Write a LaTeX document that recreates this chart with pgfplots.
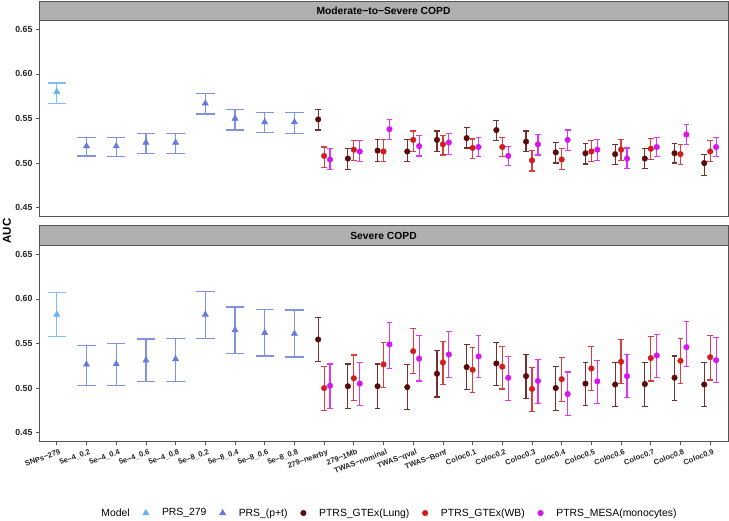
\documentclass[border=0pt]{standalone}
\usepackage{pgfplots}
\pgfplotsset{compat=1.18}
\usepackage{pgfplotstable}
\usepackage{fontspec}
\setmainfont{Liberation Sans}

\definecolor{prsA}{RGB}{100,176,250}
\definecolor{prsB}{RGB}{100,122,225}
\definecolor{lung}{RGB}{92,10,10}
\definecolor{wb}{RGB}{212,28,28}
\definecolor{mesa}{RGB}{215,20,240}
\definecolor{axgray}{RGB}{85,85,85}
\definecolor{stripgray}{RGB}{176,176,176}

% ---------- Moderate-to-Severe COPD ----------
\pgfplotstableread{
x y lo hi
1 0.580 0.567 0.590
}\topA
\pgfplotstableread{
x y lo hi
2 0.519 0.508 0.529
3 0.519 0.507 0.529
4 0.523 0.511 0.533
5 0.523 0.511 0.533
6 0.567 0.555 0.578
7 0.550 0.537 0.560
8 0.546 0.534 0.557
9 0.546 0.533 0.557
}\topB
\pgfplotstableread{
x y lo hi
10 0.549 0.537 0.560
11 0.505 0.493 0.516
12 0.514 0.502 0.526
13 0.513 0.502 0.526
14 0.526 0.513 0.536
15 0.528 0.517 0.540
16 0.537 0.525 0.548
17 0.524 0.513 0.536
18 0.512 0.500 0.523
19 0.511 0.499 0.522
20 0.510 0.498 0.521
21 0.505 0.494 0.516
22 0.511 0.500 0.522
23 0.500 0.486 0.510
}\topLung
\pgfplotstableread{
x y lo hi
10 0.508 0.495 0.518
11 0.515 0.503 0.525
12 0.513 0.502 0.526
13 0.526 0.513 0.536
14 0.521 0.509 0.531
15 0.517 0.505 0.527
16 0.518 0.507 0.529
17 0.503 0.491 0.514
18 0.504 0.493 0.516
19 0.513 0.502 0.525
20 0.515 0.503 0.526
21 0.516 0.504 0.528
22 0.510 0.498 0.521
23 0.513 0.502 0.525
}\topWB
\pgfplotstableread{
x y lo hi
10 0.504 0.493 0.516
11 0.513 0.502 0.525
12 0.538 0.526 0.549
13 0.519 0.508 0.531
14 0.523 0.510 0.533
15 0.518 0.507 0.529
16 0.508 0.497 0.519
17 0.521 0.509 0.532
18 0.526 0.514 0.537
19 0.515 0.503 0.526
20 0.505 0.494 0.517
21 0.518 0.507 0.529
22 0.532 0.521 0.543
23 0.518 0.507 0.529
}\topMESA

% ---------- Severe COPD ----------
\pgfplotstableread{
x y lo hi
1 0.5825 0.558 0.6075
}\botA
\pgfplotstableread{
x y lo hi
2 0.5265 0.503 0.548
3 0.527 0.503 0.550
4 0.531 0.507 0.555
5 0.5325 0.507 0.556
6 0.5825 0.556 0.6086
7 0.565 0.539 0.591
8 0.562 0.536 0.588
9 0.561 0.535 0.5877
}\botB
\pgfplotstableread{
x y lo hi
10 0.5545 0.530 0.579
11 0.502 0.477 0.527
12 0.502 0.477 0.527
13 0.501 0.476 0.526
14 0.516 0.490 0.542
15 0.5235 0.498 0.5485
16 0.5276 0.5026 0.551
17 0.5134 0.488 0.538
18 0.500 0.475 0.524
19 0.505 0.480 0.529
20 0.504 0.479 0.529
21 0.5045 0.479 0.529
22 0.5116 0.486 0.536
23 0.504 0.479 0.529
}\botLung
\pgfplotstableread{
x y lo hi
10 0.500 0.475 0.524
11 0.511 0.486 0.537
12 0.5265 0.501 0.551
13 0.5414 0.516 0.5664
14 0.5287 0.504 0.552
15 0.5205 0.495 0.5455
16 0.524 0.499 0.547
17 0.499 0.474 0.5235
18 0.510 0.485 0.534
19 0.522 0.497 0.5466
20 0.5295 0.505 0.5545
21 0.5336 0.508 0.5575
22 0.5306 0.505 0.5556
23 0.5347 0.509 0.5593
}\botWB
\pgfplotstableread{
x y lo hi
10 0.5026 0.477 0.527
11 0.505 0.480 0.529
12 0.549 0.522 0.5735
13 0.533 0.508 0.559
14 0.5377 0.5116 0.5634
15 0.5355 0.5116 0.5593
16 0.5116 0.486 0.535
17 0.508 0.483 0.532
18 0.4933 0.469 0.518
19 0.5075 0.4825 0.531
20 0.5134 0.489 0.538
21 0.5366 0.5116 0.5604
22 0.5459 0.5246 0.5743
23 0.5313 0.5063 0.5563
}\botMESA

\pgfplotsset{
  panel/.style={
    scale only axis, width=689pt, height=196pt,
    xmin=0.4, xmax=23.6, ymin=0.44, ymax=0.66,
    ytick={0.45,0.50,0.55,0.60,0.65},
    yticklabel style={font=\bfseries\fontsize{8.8}{10}\selectfont, text=black!85,
      /pgf/number format/.cd, fixed, fixed zerofill, precision=2, assume math mode=true},
    axis line style={draw=axgray, line width=0.8pt},
    tick style={draw=axgray, line width=0.8pt},
    tick align=outside, major tick length=3pt,
    xtick pos=bottom, ytick pos=left,
  },
  prs/.style={only marks, mark=triangle*, mark size=3.6pt, color=#1,
    mark options={fill=#1, draw=#1},
    error bars/y dir=both, error bars/y explicit,
    error bars/error bar style={line width=1.3pt, color=#1!82!white},
    error bars/error mark options={rotate=90, mark size=9.2pt, line width=1.3pt, color=#1!82!white}},
  ptrs/.style={only marks, mark=*, mark size=2.8pt, color=#1,
    mark options={fill=#1, draw=#1},
    error bars/y dir=both, error bars/y explicit,
    error bars/error bar style={line width=1.2pt, color=#1!85!white},
    error bars/error mark options={rotate=90, mark size=2.9pt, line width=1.2pt, color=#1!85!white}},
  /pgfplots/table/eb/.style={x expr=\thisrow{x}+#1, y=y,
    y error plus expr=\thisrow{hi}-\thisrow{y},
    y error minus expr=\thisrow{y}-\thisrow{lo}},
}

\begin{document}
\begin{tikzpicture}
\path[use as bounding box] (0pt,0pt) rectangle (729pt,-520pt);

% top panel
\begin{axis}[panel, at={(39pt,-20.5pt)}, anchor=north west, xtick=\empty]
\addplot[prs=prsA] table[eb=0] {\topA};
\addplot[prs=prsB] table[eb=0] {\topB};
\addplot[ptrs=lung] table[eb=-0.2] {\topLung};
\addplot[ptrs=wb] table[eb=0] {\topWB};
\addplot[ptrs=mesa] table[eb=0.2] {\topMESA};
\end{axis}

% bottom panel
\begin{axis}[panel, at={(39pt,-245.5pt)}, anchor=north west,
  xtick={1,...,23},
  xticklabels={SNPs−279,5e−4\_0.2,5e−4\_0.4,5e−4\_0.6,5e−4\_0.8,5e−8\_0.2,5e−8\_0.4,5e−8\_0.6,5e−8\_0.8,279−nearby,279−1Mb,TWAS−nominal,TWAS−qval,TWAS−Bonf,Coloc0.1,Coloc0.2,Coloc0.3,Coloc0.4,Coloc0.5,Coloc0.6,Coloc0.7,Coloc0.8,Coloc0.9},
  xticklabel style={xshift=3pt, yshift=-3pt, rotate=20, anchor=north east, inner sep=1pt, font=\bfseries\fontsize{7.6}{8}\selectfont, text=black!85},
  legend style={at={(0.5,-0.365)}, anchor=center, draw=none, fill=none,
    legend columns=-1, font=\fontsize{10.4}{12}\selectfont,
    /tikz/every even column/.append style={column sep=11pt},
    /tikz/every odd column/.append style={column sep=11pt}},
  legend cell align=left,
]
\addplot[forget plot, prs=prsA] table[eb=0] {\botA};
\addplot[forget plot, prs=prsB] table[eb=0] {\botB};
\addplot[forget plot, ptrs=lung] table[eb=-0.2] {\botLung};
\addplot[forget plot, ptrs=wb] table[eb=0] {\botWB};
\addplot[forget plot, ptrs=mesa] table[eb=0.2] {\botMESA};
\addlegendimage{empty legend}\addlegendentry{Model}
\addlegendimage{only marks, mark=triangle*, mark size=3.6pt, color=prsA}\addlegendentry{PRS\_279}
\addlegendimage{only marks, mark=triangle*, mark size=3.6pt, color=prsB}\addlegendentry{PRS\_(p+t)}
\addlegendimage{only marks, mark=*, mark size=2.8pt, color=lung}\addlegendentry{PTRS\_GTEx(Lung)}
\addlegendimage{only marks, mark=*, mark size=2.8pt, color=wb}\addlegendentry{PTRS\_GTEx(WB)}
\addlegendimage{only marks, mark=*, mark size=2.8pt, color=mesa}\addlegendentry{PTRS\_MESA(monocytes)}
\end{axis}

% facet strips
\draw[fill=stripgray, draw=axgray, line width=0.8pt] (39pt,-1pt) rectangle (728pt,-20.5pt);
\node[font=\bfseries\fontsize{10.3}{12}\selectfont] at (383.5pt,-10.75pt) {Moderate−to−Severe COPD};
\draw[fill=stripgray, draw=axgray, line width=0.8pt] (39pt,-225.5pt) rectangle (728pt,-245.5pt);
\node[font=\bfseries\fontsize{10.3}{12}\selectfont] at (383.5pt,-235.5pt) {Severe COPD};

\node[rotate=90, font=\bfseries\fontsize{11.5}{13}\selectfont] at (7pt,-231pt) {AUC};
\end{tikzpicture}
\end{document}
